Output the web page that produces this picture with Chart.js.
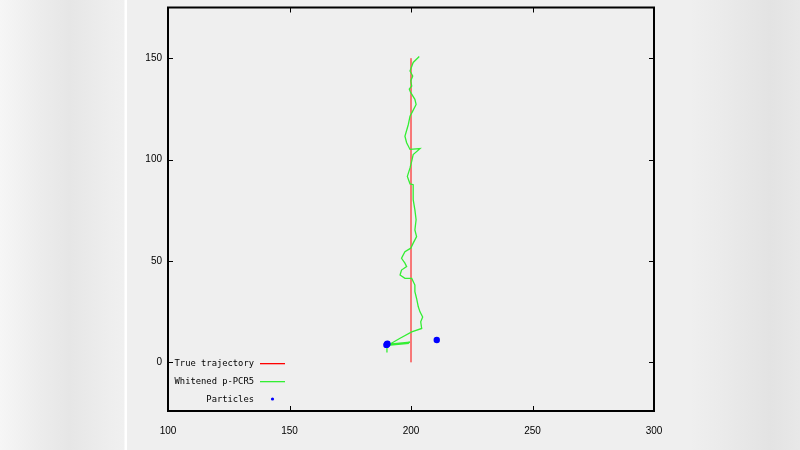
<!DOCTYPE html>
<html>
<head>
<meta charset="utf-8">
<script src="https://cdn.jsdelivr.net/npm/chart.js@4/dist/chart.umd.min.js"></script>
<style>
html,body{margin:0;padding:0;width:800px;height:450px;overflow:hidden;}
#bg{position:absolute;left:0;top:0;width:800px;height:450px;
background:linear-gradient(to right,#f6f6f6 0px,#ececec 40px,#e6e6e6 70px,#eeeeee 110px,#f0f0f0 124px,#ffffff 125px,#ffffff 127px,#efefef 127px,#efefef 690px,#ebebeb 720px,#e3e3e3 770px,#e8e8e8 800px);}
canvas{position:absolute;left:0;top:0;}
</style>
</head>
<body>
<div id="bg"></div>
<canvas id="c" width="800" height="450"></canvas>
<script>
const xTicks = [100, 150, 200, 250, 300];
const yTicks = [0, 50, 100, 150];
const seriesNames = ["True trajectory", "Whitened p-PCR5", "Particles"];
const seriesColors = ["#ff0000", "#33ee33", "#0000ff"];
const trueX = [200, 200];
const trueY = [0, 150];
const pcrX = [190.1,190.1,199.6,190.5,199.2,190.5,195.5,200.3,204.4,204.0,204.8,203.7,203.0,202.3,201.6,201.6,200.3,197.5,195.5,196.1,198.2,197.5,196.1,197.5,199.9,200.9,202.3,201.6,202.1,201.6,200.9,200.9,200.9,199.6,198.5,199.6,200.3,200.9,203.7,199.6,198.2,197.5,198.9,199.6,200.7,202.1,201.6,199.9,199.3,200.3,199.9,200.7,199.6,200.9,203.4];
const pcrY = [4.9,8.9,9.9,8.9,9.4,8.4,11.9,15.0,16.7,20.0,22.4,24.9,27.4,31.5,34.8,38.1,41.4,41.4,43.1,45.5,47.2,48.9,51.3,54.6,56.3,58.8,62.0,65.3,70.3,75.2,80.2,82.7,87.6,88.0,91.7,95.9,99.2,102.5,105.4,105.0,108.3,111.5,117.3,121.4,123.9,127.2,129.7,133.0,134.7,136.3,138.8,141.2,143.7,147.9,150.8];
const partX = [190.1, 190.3, 189.9, 210.6];
const partY = [8.9, 9.2, 8.6, 11.0];

const zip = (xs, ys) => xs.map((x, i) => ({x, y: ys[i]}));

const frame = {
  id: 'frame',
  afterDraw(chart) {
    const {ctx, chartArea: a, scales} = chart;
    ctx.save();
    ctx.strokeStyle = '#000';
    ctx.lineWidth = 1;
    const tl = 5;
    ctx.beginPath();
    xTicks.forEach(v => {
      const p = Math.round(scales.x.getPixelForValue(v)) + 0.5;
      ctx.moveTo(p, a.bottom); ctx.lineTo(p, a.bottom - tl);
      ctx.moveTo(p, a.top); ctx.lineTo(p, a.top + tl);
    });
    yTicks.forEach(v => {
      const p = Math.round(scales.y.getPixelForValue(v)) + 0.5;
      ctx.moveTo(a.left, p); ctx.lineTo(a.left + tl, p);
      ctx.moveTo(a.right, p); ctx.lineTo(a.right - tl, p);
    });
    ctx.stroke();
    ctx.lineWidth = 2;
    ctx.strokeRect(a.left, a.top, a.right - a.left, a.bottom - a.top);
    // legend
    ctx.font = '8.8px "DejaVu Sans Mono", monospace';
    ctx.textAlign = 'right';
    ctx.textBaseline = 'middle';
    const textRight = 254, x0 = 260, x1 = 285;
    const rows = [363, 381, 399];
    seriesNames.forEach((name, i) => {
      const y = rows[i];
      ctx.fillStyle = '#000';
      ctx.fillText(name, textRight, y + 1);
      ctx.fillStyle = seriesColors[i];
      if (i < 2) {
        ctx.fillRect(x0, y, x1 - x0, 1.3);
      } else {
        ctx.beginPath();
        ctx.arc((x0 + x1) / 2, y, 1.6, 0, Math.PI * 2);
        ctx.fill();
      }
    });
    ctx.restore();
  }
};

new Chart(document.getElementById('c'), {
  type: 'scatter',
  data: {
    datasets: [
      {label: seriesNames[0], data: zip(trueX, trueY), showLine: true, borderColor: seriesColors[0], backgroundColor: seriesColors[0], borderWidth: 1, pointRadius: 0, order: 2},
      {label: seriesNames[1], data: zip(pcrX, pcrY), showLine: true, borderColor: seriesColors[1], backgroundColor: seriesColors[1], borderWidth: 1.3, pointRadius: 0, order: 1},
      {label: seriesNames[2], data: zip(partX, partY), showLine: false, borderColor: seriesColors[2], backgroundColor: seriesColors[2], pointRadius: 3.2, pointBorderWidth: 0, order: 0}
    ]
  },
  options: {
    responsive: false,
    animation: false,
    devicePixelRatio: 1,
    layout: {padding: {left: 0, right: 146, top: 7.5, bottom: 0}},
    plugins: {legend: {display: false}, tooltip: {enabled: false}},
    scales: {
      x: {
        type: 'linear', min: 100, max: 300,
        afterBuildTicks: s => { s.ticks = xTicks.map(v => ({value: v})); },
        afterFit: s => { s.height = 39; s.paddingLeft = 0; s.paddingRight = 0; },
        grid: {display: false, drawTicks: false},
        border: {display: false},
        ticks: {padding: 14, color: '#000', font: {family: '"Liberation Sans", Arial, sans-serif', size: 10}, maxRotation: 0}
      },
      y: {
        type: 'linear', min: -24, max: 175,
        afterBuildTicks: s => { s.ticks = yTicks.map(v => ({value: v})); },
        afterFit: s => { s.width = 168; s.paddingTop = 0; s.paddingBottom = 0; },
        grid: {display: false, drawTicks: false},
        border: {display: false},
        ticks: {padding: 6, color: '#000', font: {family: '"Liberation Sans", Arial, sans-serif', size: 10}}
      }
    }
  },
  plugins: [frame]
});
</script>
</body>
</html>
